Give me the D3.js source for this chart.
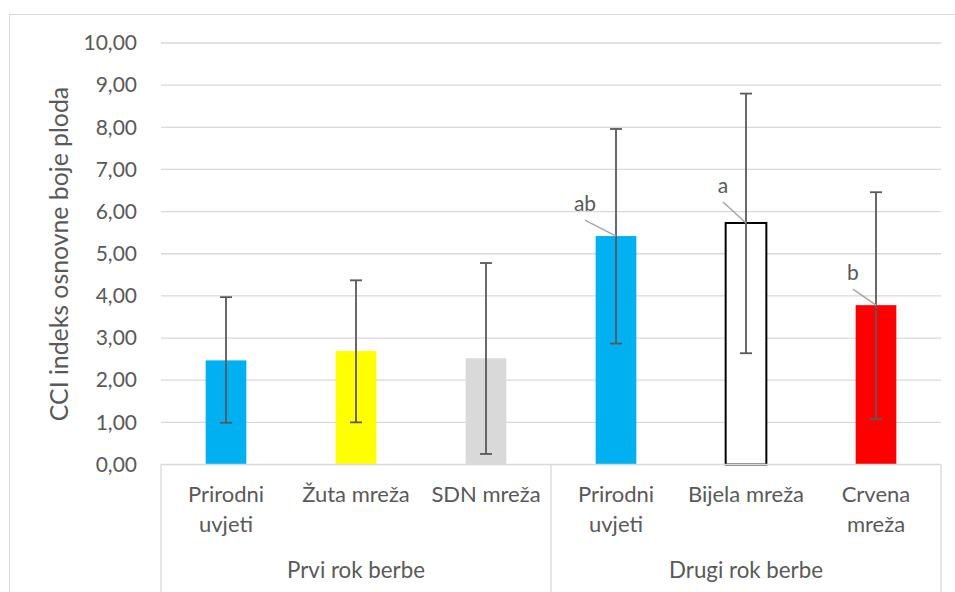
<!DOCTYPE html>
<html>
<head>
<meta charset="utf-8">
<script src="https://cdn.jsdelivr.net/npm/d3@7/dist/d3.min.js"></script>
<style>
  html, body { margin: 0; padding: 0; background: #fff; }
  svg { display: block; }
  text { font-family: Lato, "Open Sans", sans-serif; fill: #595959; }
</style>
</head>
<body>
<svg id="chart" width="955" height="592"></svg>
<script>
// CCI index of fruit ground colour by harvest time and netting treatment
const groups = ["Prvi rok berbe", "Drugi rok berbe"];
const categories = [
  ["Prirodni", "uvjeti"], ["Žuta mreža"], ["SDN mreža"],
  ["Prirodni", "uvjeti"], ["Bijela mreža"], ["Crvena", "mreža"]
];
const categoryGroup = [0, 0, 0, 1, 1, 1];
const means = [2.47, 2.69, 2.52, 5.42, 5.73, 3.78];
const errUp = [1.50, 1.68, 2.26, 2.54, 3.07, 2.68];
const errDown = [1.48, 1.69, 2.27, 2.55, 3.09, 2.70];
const letters = ["", "", "", "ab", "a", "b"];
const yTicks = [0, 1, 2, 3, 4, 5, 6, 7, 8, 9, 10];

const fills = ["#00b0f0", "#ffff00", "#d9d9d9", "#00b0f0", "#ffffff", "#ff0000"];
const strokes = [null, null, null, null, "#000000", null];
// leader line start offset (dx, dy) from the bar top centre
const leaderOffset = [null, null, null, [-31, -16], [-23, -21], [-23, -16]];

const svg = d3.select("#chart");
const plot = { left: 161, right: 941, top: 43, bottom: 464.5 };

const x = d3.scaleBand()
  .domain(d3.range(categories.length))
  .range([plot.left, plot.right])
  .paddingInner(0.687)
  .paddingOuter(0.687 / 2);
const step = x.step();

const y = d3.scaleLinear().domain([0, 10]).range([plot.bottom, plot.top]);

// outer chart frame
svg.append("rect")
  .attr("x", 9.5).attr("y", 14.5).attr("width", 1000).attr("height", 700)
  .attr("fill", "none").attr("stroke", "#d9d9d9").attr("stroke-width", 1);

// gridlines
svg.append("g").selectAll("line").data(yTicks.slice(1)).join("line")
  .attr("x1", plot.left).attr("x2", plot.right)
  .attr("y1", d => y(d)).attr("y2", d => y(d))
  .attr("stroke", "#d9d9d9").attr("stroke-width", 1.3);

// y axis labels
const fmt = v => v.toFixed(2).replace(".", ",");
const yAxis = d3.axisLeft(y).tickValues(yTicks).tickFormat(fmt).tickSize(0).tickPadding(0);
const yg = svg.append("g").attr("transform", `translate(${137},0)`).call(yAxis);
yg.select(".domain").remove();
yg.selectAll("text").attr("font-size", 21).attr("fill", "#595959")
  .style("font-family", "Lato, 'Open Sans', sans-serif");

// y axis title
svg.append("text")
  .attr("transform", `translate(68,${254}) rotate(-90)`)
  .attr("text-anchor", "middle")
  .attr("font-size", 24.8)
  .text("CCI indeks osnovne boje ploda");

// bars
svg.append("g").selectAll("rect").data(means).join("rect")
  .attr("x", (d, i) => x(i))
  .attr("width", x.bandwidth())
  .attr("y", d => y(d))
  .attr("height", d => y(0) - y(d))
  .attr("fill", (d, i) => fills[i])
  .attr("stroke", (d, i) => strokes[i] || "none")
  .attr("stroke-width", 2);

// category axis lines
svg.append("line")
  .attr("x1", plot.left).attr("x2", plot.right)
  .attr("y1", plot.bottom).attr("y2", plot.bottom)
  .attr("stroke", "#d9d9d9").attr("stroke-width", 1.3);
const sepX = [plot.left, plot.left + step * 3, plot.right];
svg.append("g").selectAll("line").data(sepX).join("line")
  .attr("x1", d => d).attr("x2", d => d)
  .attr("y1", plot.bottom).attr("y2", 600)
  .attr("stroke", "#d9d9d9").attr("stroke-width", 1.3);

// error bars
const eg = svg.append("g").attr("stroke", "#595959").attr("stroke-width", 1.8);
means.forEach((m, i) => {
  const cx = x(i) + x.bandwidth() / 2;
  const yt = y(m + errUp[i]), yb = y(m - errDown[i]);
  eg.append("line").attr("x1", cx).attr("x2", cx).attr("y1", yt).attr("y2", yb);
  eg.append("line").attr("x1", cx - 6).attr("x2", cx + 6).attr("y1", yt).attr("y2", yt);
  eg.append("line").attr("x1", cx - 6).attr("x2", cx + 6).attr("y1", yb).attr("y2", yb);
});

// significance letters with leader lines
means.forEach((m, i) => {
  if (!letters[i]) return;
  const cx = x(i) + x.bandwidth() / 2;
  const ty = y(m);
  const [dx, dy] = leaderOffset[i];
  svg.append("line")
    .attr("x1", cx + dx).attr("y1", ty + dy)
    .attr("x2", cx).attr("y2", ty)
    .attr("stroke", "#a6a6a6").attr("stroke-width", 1.5);
  svg.append("text")
    .attr("x", cx + dx).attr("y", ty + dy - 9)
    .attr("text-anchor", "middle")
    .attr("font-size", 21)
    .attr("fill", "#404040")
    .text(letters[i]);
});

// category labels
categories.forEach((lines, i) => {
  const cx = x(i) + x.bandwidth() / 2;
  const t = svg.append("text").attr("text-anchor", "middle").attr("font-size", 22);
  lines.forEach((ln, k) => {
    t.append("tspan").attr("x", cx).attr("y", 502 + k * 30).text(ln);
  });
});

// group labels
groups.forEach((g, gi) => {
  const idx = d3.range(categories.length).filter(i => categoryGroup[i] === gi);
  const x0 = x(idx[0]) - (step - x.bandwidth()) / 2;
  const x1 = x(idx[idx.length - 1]) + x.bandwidth() + (step - x.bandwidth()) / 2;
  svg.append("text")
    .attr("x", (x0 + x1) / 2).attr("y", 578)
    .attr("text-anchor", "middle").attr("font-size", 22.3)
    .text(g);
});
</script>
</body>
</html>
